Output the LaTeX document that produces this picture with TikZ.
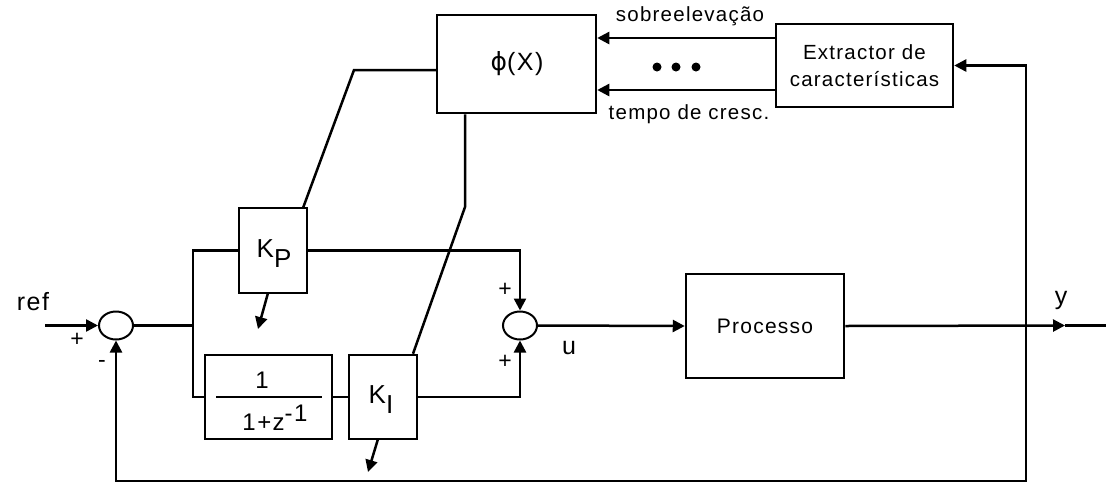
\documentclass[tikz,border=0pt]{standalone}
\usepackage{fontspec}
\setmainfont{Liberation Sans}[LetterSpace=6]
\newfontfamily\dejavu{DejaVu Sans}
\usetikzlibrary{arrows.meta,shapes.geometric}
\tikzset{
  blk/.style={draw, line width=2.5pt, inner sep=0pt},
  sumj/.style={draw, ellipse, line width=2pt, inner sep=0pt, minimum width=34pt, minimum height=28pt},
  wire/.style={line width=2.5pt},
  arr/.style={wire, -{Triangle[length=12pt,width=12pt]}},
  lbl/.style={inner sep=0pt, font=\fontsize{22}{24}\selectfont},
  sgn/.style={inner sep=0pt, font=\fontsize{23}{23}\selectfont},
  dot/.style={circle, fill=black, inner sep=0pt, minimum size=9pt}
}
\begin{document}
\begin{tikzpicture}[x=1pt,y=-1pt]
\useasboundingbox (0,0) rectangle (1106,483);
% blocks
\node[blk, minimum width=159pt, minimum height=98pt] (phi) at (516.5,64) {};
\node[lbl, font=\fontsize{25}{26}\selectfont] (phit) at (517,64) {{\dejavu ϕ}(X)};
\node[blk, minimum width=177pt, minimum height=83pt, align=center, font=\fontsize{20.5}{27}\selectfont] (ext) at (864.5,65.5) {Extractor de\\características};
\node[blk, minimum width=68pt, minimum height=85pt] (kp) at (273,250.5) {};
\node[lbl, font=\fontsize{26}{26}\selectfont] (kpt) at (274,254) {K\raisebox{-10pt}{P}};
\node[blk, minimum width=127pt, minimum height=84pt] (tf) at (268.5,397) {};
\node[lbl, font=\fontsize{24}{24}\selectfont] (tfn) at (262,380) {1};
\node[lbl, font=\fontsize{24}{24}\selectfont] (tfd) at (275,418) {1+z\raisebox{9pt}{-1}};
\draw[line width=2pt] (216,397) -- (322,397);
\node[blk, minimum width=68pt, minimum height=84pt] (ki) at (383,397) {};
\node[lbl, font=\fontsize{26}{26}\selectfont] (kit) at (381,400) {K\raisebox{-10pt}{I}};
\node[blk, minimum width=158pt, minimum height=104pt, font=\fontsize{21}{22}\selectfont] (proc) at (765,326) {Processo};
% summing junctions
\node[sumj] (s1) at (116,325.5) {};
\node[sumj] (s2) at (520,325.5) {};
% labels
\node[lbl, font=\fontsize{25}{26}\selectfont] at (33,302) {ref};
\node[sgn] at (77,340) {+};
\node[sgn] at (102,364) {-};
\node[sgn] at (505,290) {+};
\node[sgn] at (505,362) {+};
\node[lbl, font=\fontsize{25}{26}\selectfont] at (569,348) {u};
\node[lbl, font=\fontsize{25}{26}\selectfont] at (1061,300) {y};
\node[lbl, font=\fontsize{20.5}{22}\selectfont] at (690,16) {sobreelevação};
\node[lbl, font=\fontsize{20.5}{22}\selectfont] at (689,114) {tempo de cresc.};
% coordinates
\coordinate (in) at (45,325.5);
\coordinate (j1) at (193,325.5);
\coordinate (jr) at (1026,325.5);
\coordinate (ytip) at (1065,325.5);
\coordinate (out) at (1106,325.5);
\coordinate (fb) at (1026,481);
\coordinate (a1) at (0,38);
\coordinate (a2) at (0,90);
\coordinate (pj) at (354,70);
\coordinate (pkp) at (303,208);
\coordinate (kv) at (465,207);
\coordinate (kpa) at (258,329);
\coordinate (kia) at (368,472);
% main wires
\draw[arr] (in) -- (s1.west);
\draw[wire] (s1.east) -- (j1);
\draw[wire] (j1) |- (kp.west);
\draw[wire] (j1) |- (tf.west);
\draw[arr] (kp.east) -| (s2.north);
\draw[wire] (tf.east) -- (ki.west);
\draw[arr] (ki.east) -| (s2.south);
\draw[arr] (s2.east) -- (proc.west);
\draw[arr] (proc.east) -- (ytip);
\draw[wire] (ytip) -- (out);
\draw[arr] (jr) -- (fb) -| (s1.south);
\draw[arr] (jr) |- (ext.east);
\draw[arr] (ext.west |- a1) -- (phi.east |- a1);
\draw[arr] (ext.west |- a2) -- (phi.east |- a2);
\node[dot] (d1) at (657,67) {};
\node[dot] (d2) at (676,67) {};
\node[dot] (d3) at (696,67) {};
% parameter lines
\draw[wire] (phi.west |- pj) -- (pj) -- (pkp);
\draw[wire] (phi.south -| kv) -- (kv) -- (ki.north east -| 413,0);
\draw[arr] (268,293) -- (kpa);
\draw[arr] (378,439) -- (kia);
\end{tikzpicture}
\end{document}
